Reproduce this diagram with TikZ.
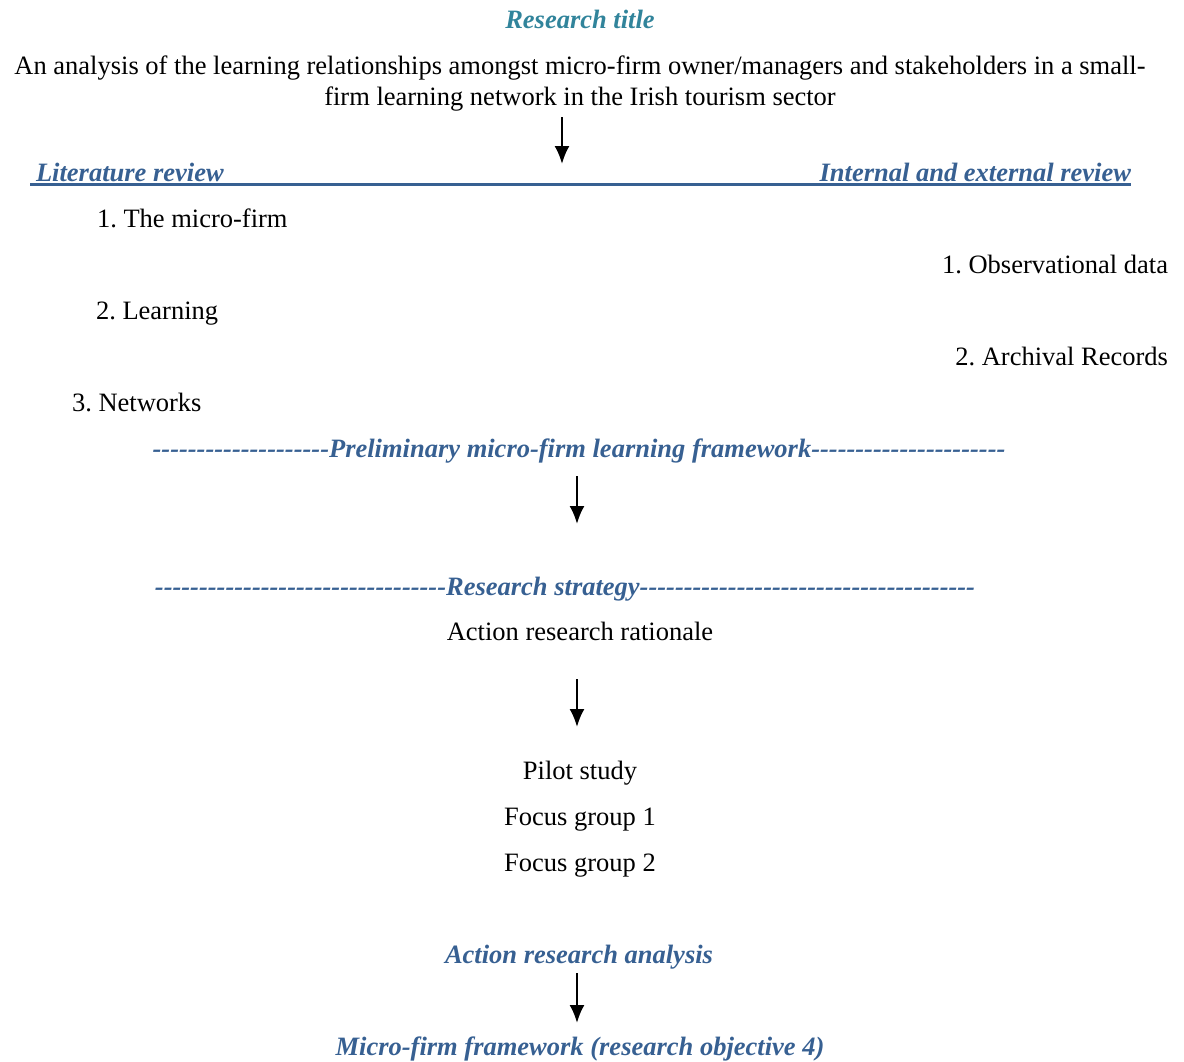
\documentclass[tikz,border=0pt]{standalone}
\usepackage{fontspec}
\setmainfont{Liberation Serif}[Ligatures=TeXOff]
\usetikzlibrary{arrows.meta}
\definecolor{titleteal}{HTML}{31849B}
\definecolor{headblue}{HTML}{376092}
\frenchspacing
\begin{document}
\begin{tikzpicture}[x=1pt,y=-1pt,
  every node/.style={inner sep=0pt, outer sep=0pt, font=\fontsize{26.5}{31}\selectfont},
  body/.style={text=black},
  head/.style={text=headblue, font=\fontsize{26.5}{31}\selectfont\bfseries\itshape},
  flow/.style={-{Latex[length=18pt,width=15pt]}, line width=2.2pt, black}]
  \useasboundingbox (0,0) rectangle (1184,1061);

  % title block
  \node[head, text=titleteal, anchor=base] (title) at (580,28) {Research title};
  \node[body, align=center] (topic) at (580,83.5)
    {An analysis of the learning relationships amongst micro-firm owner/managers and stakeholders in a small-\\
     firm learning network in the Irish tourism sector};

  \coordinate (a1s) at (562,117);
  \coordinate (a1e) at (562,164);
  \draw[flow] (a1s) -- (a1e);

  % two review streams
  \node[head, anchor=base west] (lit) at (36,181) {Literature review};
  \node[head, anchor=base east] (ier) at (1131,181) {Internal and external review};
  \coordinate (ulL) at (30,184.5);
  \coordinate (ulR) at (1131,184.5);
  \draw[headblue, line width=3pt] (ulL) -- (ulR);

  \node[body, anchor=base west] (l1) at (97,227) {1. The micro-firm};
  \node[body, anchor=base east] (r1) at (1168,273) {1. Observational data};
  \node[body, anchor=base west] (l2) at (96,319) {2. Learning};
  \node[body, anchor=base east] (r2) at (1168,365) {2. Archival Records};
  \node[body, anchor=base west] (l3) at (72,411) {3. Networks};

  % preliminary framework
  \node[head, anchor=base] (prelim) at (579,457)
    {--------------------Preliminary micro-firm learning framework----------------------};
  \coordinate (a2s) at (577,476);
  \coordinate (a2e) at (577,524);
  \draw[flow] (a2s) -- (a2e);

  % research strategy
  \node[head, anchor=base] (strat) at (565,595)
    {---------------------------------Research strategy--------------------------------------};
  \node[body, anchor=base] (rat) at (580,640) {Action research rationale};
  \draw[flow] (577,679) -- (577,727);

  % pilot and focus groups
  \node[body, anchor=base] (pilot) at (580,779) {Pilot study};
  \node[body, anchor=base] (fg1) at (580,825) {Focus group 1};
  \node[body, anchor=base] (fg2) at (580,871) {Focus group 2};

  % analysis and outcome
  \node[head, anchor=base] (ana) at (579,963) {Action research analysis};
  \node[head, anchor=base] (fw) at (580,1055) {Micro-firm framework (research objective 4)};
  \coordinate (a4s) at (577,973);
  \coordinate (a4e) at (577,1023);
  \draw[flow] (a4s) -- (a4e);
\end{tikzpicture}
\end{document}
